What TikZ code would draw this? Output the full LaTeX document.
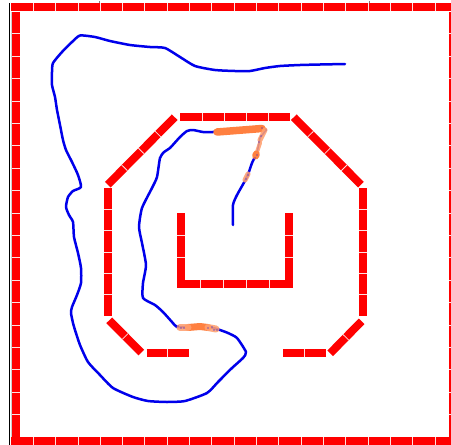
\documentclass[tikz,border=0pt]{standalone}
\definecolor{wallred}{RGB}{255,0,0}
\definecolor{pathblue}{RGB}{0,0,235}
\definecolor{hotorange}{RGB}{255,128,64}
\definecolor{seam}{RGB}{252,225,225}
\tikzset{
  wall/.style={line width=8pt,draw=wallred,line cap=butt},
  seamline/.style={draw=seam,line width=0.8pt},
  route/.style={draw=pathblue,line width=2.5pt,line join=round,line cap=round},
  hot/.style={draw=hotorange,line cap=round,line join=round},
  fuzzy/.style={draw=hotorange!75!white,opacity=0.88,line cap=round,line join=round},
  speck/.style={fill=pathblue}
}
\newcommand{\wallrun}[6][8]{%
  \draw[wall,line width=#1pt] (#2,#3) -- (#4,#5);
  \ifnum#6>1
  \pgfmathsetmacro{\lastseam}{#6-1}
  \foreach \k in {1,...,\lastseam}{
    \pgfmathsetmacro{\ff}{\k/#6}
    \path (#2,#3) -- (#4,#5) coordinate[pos=\ff] (sm);
    \pgfmathanglebetweenpoints{\pgfpointxy{#2}{#3}}{\pgfpointxy{#4}{#5}}
    \let\ang\pgfmathresult
    \draw[seamline,shift={(sm)},rotate=\ang+90] (-#1/2,0) -- (#1/2,0);
  }
  \fi
}
\begin{document}
\begin{tikzpicture}[x=1pt,y=-1pt]
\useasboundingbox (0,0) rectangle (451,445);
\fill[white] (0,0) rectangle (451,445);
\begin{scope}
\clip (0,0) rectangle (451,445);
% axis line and pale strip beside the left wall
\draw[black,line width=1.1pt] (9.8,3) -- (9.8,445);
\fill[black!20] (10.5,11.5) rectangle (12,437);
% outer frame
\wallrun[8]{11}{7}{457.3}{7}{20}
\wallrun[8]{11}{441}{457.3}{441}{20}
\wallrun[8]{16}{11.5}{16}{437}{19}
\wallrun[8]{453}{11.5}{453}{437}{19}
% octagon
\wallrun{180}{116.7}{290}{116.7}{5}
\wallrun{293.8}{117.2}{361}{184.7}{4}
\wallrun{362.8}{188.3}{362.8}{316}{6}
\wallrun{361.6}{321.3}{330.2}{353.3}{2}
\wallrun{283.3}{353.3}{326}{353.3}{2}
\wallrun{146.7}{353.3}{189}{353.3}{2}
\wallrun{109.2}{320.3}{141.3}{352.5}{2}
\wallrun{107.8}{188.3}{107.8}{316}{6}
\wallrun{107.8}{184.7}{174.7}{117.2}{4}
% inner U
\wallrun{181.4}{213.3}{181.4}{279.5}{3}
\wallrun{288.7}{213.3}{288.7}{279.5}{3}
\wallrun{177.3}{284}{292.7}{284}{5}
% blue route
\draw[route] plot[smooth,tension=0.35] coordinates {(345,64) (320,64.5) (300,65) (280,66) (265,68) (250,71) (235,71) (215,70) (195,66) (180,57) (165,48) (150,47) (130,45) (110,41) (95,37) (80,35.5) (72,42) (62,52) (53,63) (52,72) (52,85) (55,97) (57,110) (60,125) (63,140) (66,150) (72,162) (78,175) (81,187) (73,191) (68,197) (66,207) (69,215) (73,222) (74,237) (78,253) (81,268) (81,283) (77,295) (72,307) (71,313) (73,323) (75,330) (80,345) (88,362) (100,375) (113,388) (133,397) (148,401) (167,402) (185,401) (207,393) (218,382) (232,368) (243,358) (246,352) (237,338) (228,333) (220,330) (213,328) (200,326) (187,327) (177,327) (172,322) (163,312) (155,305) (143,298) (143,283) (146,265) (142,243) (139,227) (142,208) (152,188) (157,177) (160,158) (164,152) (170,148) (180,137) (187,131) (193,130) (203,132) (213,132)};
\draw[route] (213,132) -- (263,128) -- (266,130);
\draw[route,line width=1.6pt] (266,130) -- (260,138) -- (257,153);
\draw[route] plot[smooth,tension=0.35] coordinates {(257,153) (252,163) (247,177) (237,195) (233,205) (233,225)};
% orange overlays, upper
\draw[hot,line width=7.5pt] (217,132) -- (262,128.5);
\draw[fuzzy,line width=5pt] (265,130) -- (260,140);
\draw[fuzzy,line width=4pt] (260,143) -- (257,152);
\draw[hot,line width=7pt] (256.3,154) -- (255.7,156);
\draw[fuzzy,line width=5pt] (248,174) -- (245,180);
% orange overlays, lower
\draw[hot,line width=7pt] (188,327.5) -- (200,326.5) -- (208,327.5);
\draw[fuzzy,line width=7pt] (180,327.5) -- (188,327.5);
\draw[fuzzy,line width=7pt] (208,327.5) -- (216,329);
% specks
\foreach \a/\b in {178/326,181/328,184/328,208/328,212/327,214/330,217/330,
                   262/128,261/136,259/142,257/155,255/158,248/175,246/179}
  \fill[speck] (\a,\b) circle (0.6pt);
% axis ticks
\draw[gray,line width=.7pt] (99,1) -- (99,3);
\draw[gray,line width=.7pt] (369,1) -- (369,3);
\end{scope}
\end{tikzpicture}
\end{document}
